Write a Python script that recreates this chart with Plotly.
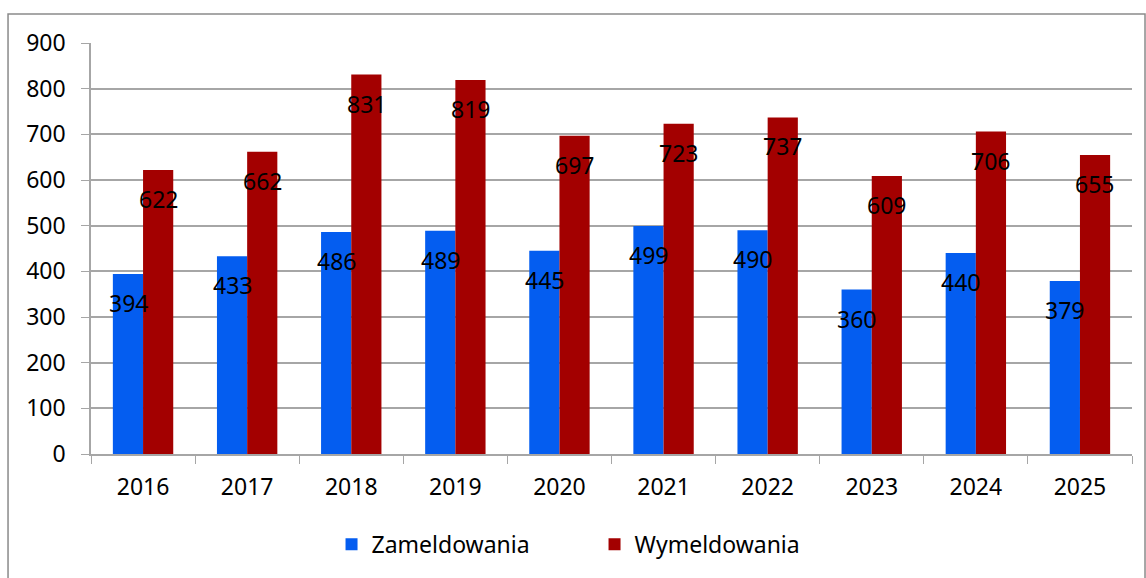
import plotly.graph_objects as go

years = ["2016", "2017", "2018", "2019", "2020", "2021", "2022", "2023", "2024", "2025"]
zameldowania = [394, 433, 486, 489, 445, 499, 490, 360, 440, 379]
wymeldowania = [622, 662, 831, 819, 697, 723, 737, 609, 706, 655]
y_ticks = [0, 100, 200, 300, 400, 500, 600, 700, 800, 900]

FONT = "Noto Sans, Open Sans, sans-serif"
BLUE = "#045df0"
RED = "#a30000"
FS = 23

fig = go.Figure()
fig.add_trace(go.Bar(x=years, y=zameldowania, name="Zameldowania",
                     marker=dict(color=BLUE, line=dict(width=0))))
fig.add_trace(go.Bar(x=years, y=wymeldowania, name="Wymeldowania",
                     marker=dict(color=RED, line=dict(width=0))))

annotations = []
for i, v in enumerate(zameldowania):
    annotations.append(dict(x=i, y=v, text=str(v), showarrow=False, xshift=-15, yshift=-29,
                            font=dict(family=FONT, size=FS, color="black")))
for i, v in enumerate(wymeldowania):
    annotations.append(dict(x=i, y=v, text=str(v), showarrow=False, xshift=15, yshift=-29,
                            font=dict(family=FONT, size=FS, color="black")))

fig.update_layout(
    width=1146, height=578,
    margin=dict(l=91, r=14, t=43, b=124, autoexpand=False),
    paper_bgcolor="white", plot_bgcolor="white",
    barmode="group", bargap=0.42, bargroupgap=0,
    font=dict(family=FONT, size=FS, color="black"),
    annotations=annotations,
    showlegend=True,
    legend=dict(orientation="h", x=0.4837, xanchor="center", y=-0.22, yanchor="middle",
                font=dict(family=FONT, size=FS, color="black"),
                entrywidth=218, entrywidthmode="pixels", itemwidth=30),
    shapes=[dict(type="rect", xref="paper", yref="paper", x0=-0.0797, x1=1.0125,
                 y0=-0.32, y1=1.0706, line=dict(color="#8a8a8a", width=1.5),
                 fillcolor="rgba(0,0,0,0)", layer="below")],
)
fig.update_yaxes(range=[0, 900], tickvals=y_ticks, showgrid=True, gridcolor="#a6a6a6", gridwidth=1.5,
                 showline=True, linecolor="#a6a6a6", linewidth=1.5, ticks="outside", ticklen=8,
                 tickcolor="#a6a6a6", tickfont=dict(size=FS, color="black"), zeroline=False,
                 ticklabelstandoff=11, automargin=False)
fig.update_xaxes(type="category", showline=True, linecolor="#a6a6a6", linewidth=1.5, ticks="outside",
                 ticklen=8, tickcolor="#a6a6a6", tickson="boundaries",
                 tickfont=dict(size=FS, color="black"), showgrid=False, tickangle=0,
                 automargin=False, ticklabelstandoff=12)

fig.write_html("out.html", config={"displayModeBar": False},
               post_script="document.body.style.margin='0';")
